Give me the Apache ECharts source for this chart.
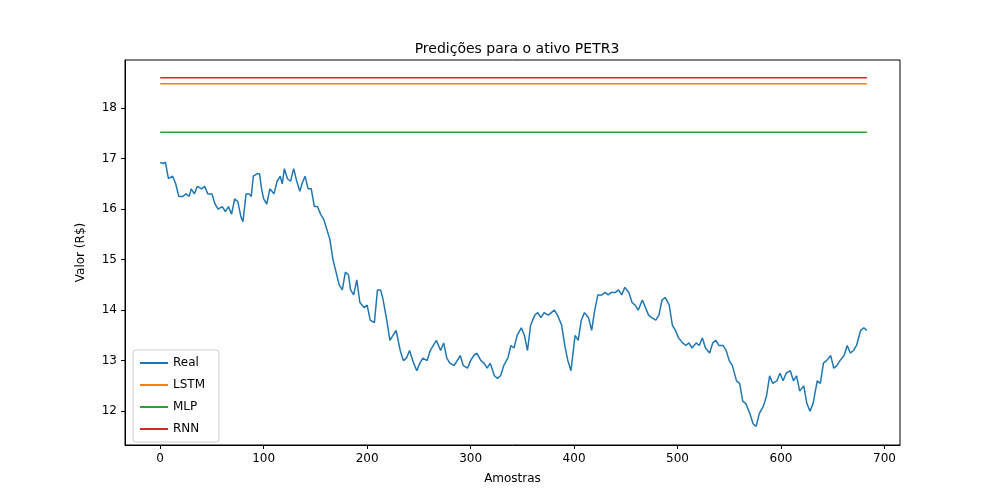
<!DOCTYPE html>
<html><head><meta charset="utf-8">
<script src="https://cdn.jsdelivr.net/npm/echarts@6/dist/echarts.min.js"></script>
<style>html,body{margin:0;padding:0;background:#fff}#c{width:1000px;height:500px}</style>
</head><body><div id="c"></div>
<script>
const samples = [0,3,5,8,12,15,18,22,25,28,30,33,36,40,43,46,50,53,56,60,63,66,69,72,75,78,80,83,86,88,90,94,96,98,100,103,106,110,113,116,118,120,123,126,129,132,135,137,140,143,146,149,152,155,158,161,164,167,
173,176,179,182,184,187,190,193,197,200,203,207,210,213,215,219,222,225,228,232,235,238,241,245,248,251,254,258,261,264,267,271,274,277,280,284,287,290,293,297,300,303,306,310,313,316,319,323,326,329,332,336,339,342,345,349,352,355,358,362,365,368,371,375,378,381,384,388,391,394,397,401,404,407,410,414,417,420,423,427,430,433,436,440,443,446,449,453,456,459,462,466,469,472,475,479,482,485,488,492,495,498,501,505,508,511,514,518,521,524,527,531,534,537,540,544,547,550,553,557,560,563,566,570,573,576,579,583,586,589,592,596,599,602,605,609,612,615,618,622,625,628,631,635,638,641,644,648,651,654,657,661,664,667,670,673,677,680,683];
const real = [16.92,16.9,16.93,16.6,16.65,16.5,16.25,16.25,16.3,16.25,16.4,16.3,16.45,16.4,16.45,16.3,16.3,16.1,16.0,16.05,15.95,16.05,15.9,16.2,16.15,15.85,15.75,16.3,16.3,16.25,16.65,16.7,16.7,16.4,16.2,16.1,16.4,16.3,16.55,16.65,16.5,16.8,16.6,16.55,16.8,16.55,16.35,16.5,16.65,16.4,16.4,16.05,16.05,15.9,15.8,15.6,15.4,15.0,
14.5,14.4,14.75,14.7,14.4,14.3,14.6,14.15,14.05,14.1,13.8,13.75,14.4,14.4,14.25,13.8,13.4,13.5,13.6,13.2,13.0,13.05,13.2,12.95,12.8,12.95,13.05,13.0,13.2,13.3,13.4,13.2,13.35,13.05,12.95,12.9,13.0,13.1,12.9,12.85,13.0,13.1,13.15,13.0,12.95,12.85,12.95,12.7,12.65,12.7,12.9,13.05,13.3,13.25,13.5,13.65,13.5,13.2,13.7,13.9,13.95,13.85,13.95,13.9,13.95,14.0,13.9,13.7,13.3,13.0,12.8,13.5,13.4,13.8,13.95,13.85,13.6,14.0,14.3,14.3,14.35,14.3,14.35,14.35,14.4,14.3,14.45,14.35,14.15,14.1,14.0,14.2,14.05,13.9,13.85,13.8,13.9,14.2,14.25,14.1,13.7,13.6,13.45,13.35,13.3,13.35,13.25,13.35,13.3,13.45,13.25,13.15,13.35,13.4,13.3,13.3,13.2,13.0,12.9,12.6,12.55,12.2,12.15,11.95,11.75,11.7,11.95,12.1,12.3,12.7,12.55,12.6,12.75,12.6,12.75,12.8,12.6,12.7,12.4,12.5,12.15,12.0,12.15,12.6,12.55,12.95,13.0,13.1,12.85,12.9,13.0,13.1,13.3,13.15,13.2,13.3,13.6,13.65,13.6];
const lstm = 18.48, mlp = 17.52, rnn = 18.6;
const xTicks = [0,100,200,300,400,500,600,700];
const yTicks = [12,13,14,15,16,17,18];
const ff = 'DejaVu Sans';
const flat = v => [[0,v],[683,v]];
const chart = echarts.init(document.getElementById('c'));
chart.setOption({
  animation:false,
  textStyle:{fontFamily:ff},
  title:{text:'Predições para o ativo PETR3',left:512,top:37,textAlign:'center',textStyle:{fontFamily:ff,fontSize:14,fontWeight:'normal',color:'#000'}},
  grid:{left:125,right:100,top:60,bottom:55,show:true,borderColor:'#000',borderWidth:1},
  legend:{left:133,top:350,orient:'vertical',itemWidth:28,itemHeight:2,itemGap:10,icon:'rect',
    padding:[7,14,7,7],borderColor:'#ccc',borderWidth:1,borderRadius:3,backgroundColor:'#fff',
    textStyle:{fontFamily:ff,fontSize:12,color:'#000'},data:['Real','LSTM','MLP','RNN']},
  xAxis:{type:'value',min:-34,max:715,name:'Amostras',nameLocation:'middle',nameGap:28,
    nameTextStyle:{fontFamily:ff,fontSize:12,color:'#000'},splitLine:{show:false},
    axisLine:{onZero:false,lineStyle:{color:'#000'}},
    axisTick:{customValues:xTicks,length:4,lineStyle:{color:'#000'}},
    axisLabel:{customValues:xTicks,color:'#000',fontSize:12,fontFamily:ff}},
  yAxis:{type:'value',min:11.33,max:18.95,name:'Valor (R$)',nameLocation:'middle',nameGap:38,
    nameTextStyle:{fontFamily:ff,fontSize:12,color:'#000'},splitLine:{show:false},
    axisLine:{show:true,onZero:false,lineStyle:{color:'#000'}},
    axisTick:{show:true,customValues:yTicks,length:4,lineStyle:{color:'#000'}},
    axisLabel:{customValues:yTicks,color:'#000',fontSize:12,fontFamily:ff}},
  series:[
    {name:'Real',type:'line',showSymbol:false,color:'#1f77b4',lineStyle:{width:1.5},data:samples.map((s,i)=>[s,real[i]])},
    {name:'LSTM',type:'line',showSymbol:false,color:'#ff7f0e',lineStyle:{width:1.5},data:flat(lstm)},
    {name:'MLP',type:'line',showSymbol:false,color:'#2ca02c',lineStyle:{width:1.5},data:flat(mlp)},
    {name:'RNN',type:'line',showSymbol:false,color:'#d62728',lineStyle:{width:1.5},data:flat(rnn)}
  ]
});
</script></body></html>
